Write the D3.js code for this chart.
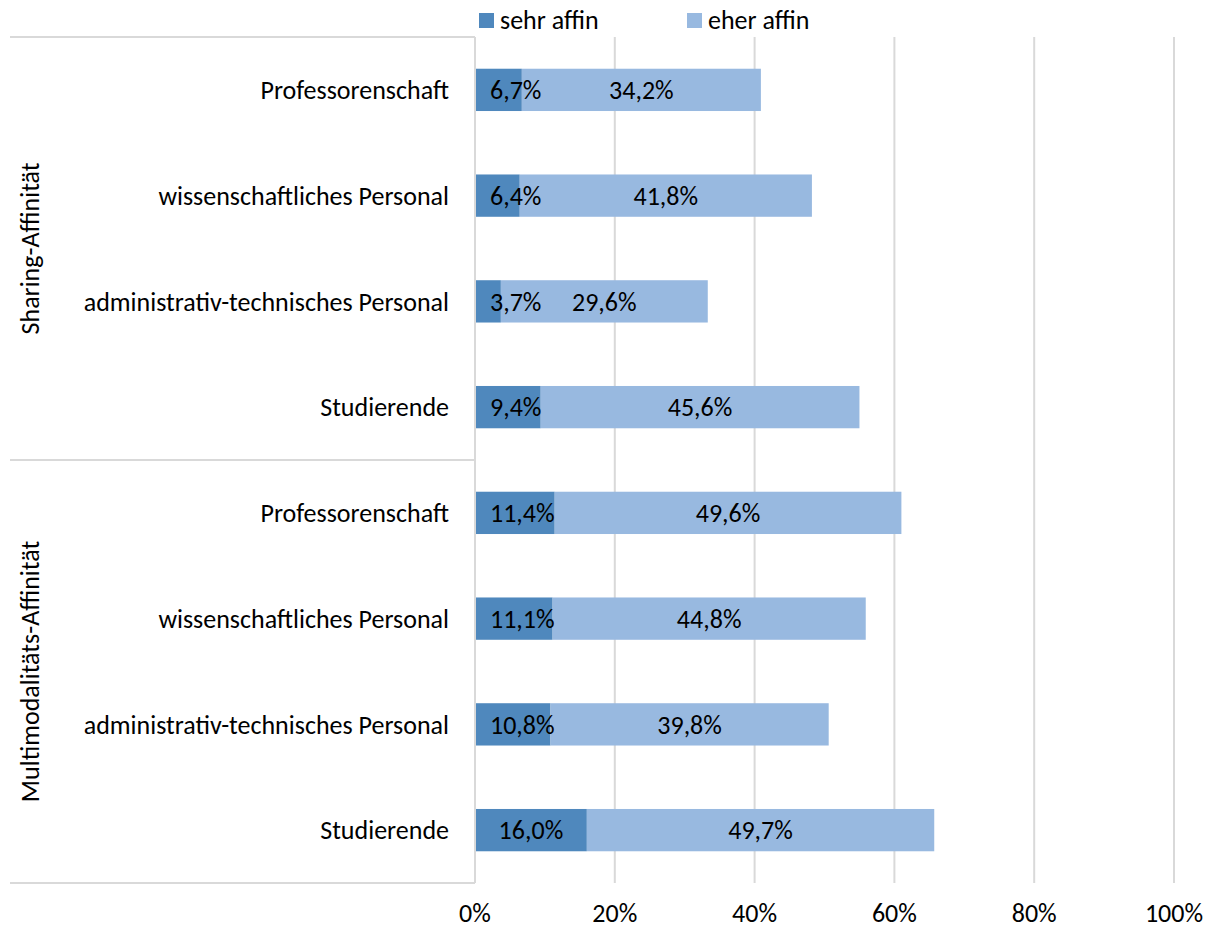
<!DOCTYPE html>
<html>
<head>
<meta charset="utf-8">
<script src="https://cdn.jsdelivr.net/npm/d3@7"></script>
<style>
body { margin:0; background:#fff; }
text { font-family: Carlito, Lato, "Open Sans", sans-serif; fill:#000; }
</style>
</head>
<body>
<div id="chart"></div>
<script>
// data
var groups = ["Sharing-Affinität", "Multimodalitäts-Affinität"];
var categories = ["Professorenschaft", "wissenschaftliches Personal", "administrativ-technisches Personal", "Studierende"];
var sehrAffin = [6.7, 6.4, 3.7, 9.4, 11.4, 11.1, 10.8, 16.0];
var eherAffin = [34.2, 41.8, 29.6, 45.6, 49.6, 44.8, 39.8, 49.7];
var seriesNames = ["sehr affin", "eher affin"];
var colors = ["#4F88BD", "#98B9E0"];
var ticks = [0, 20, 40, 60, 80, 100];

var w = 1212, h = 930;
var margins = {top:37, bottom:47, left:475, right:38};
var fs = 26;

var rows = [];
groups.forEach(function(g, gi){
  categories.forEach(function(c, ci){
    var i = gi*categories.length + ci;
    rows.push({id:i, group:g, cat:c, sehr:sehrAffin[i], eher:eherAffin[i]});
  });
});

var svg = d3.select("#chart").append("svg")
  .attr("width", w).attr("height", h);

var xScale = d3.scaleLinear().domain([0,100]).range([margins.left, w - margins.right]);
var yScale = d3.scaleBand()
  .domain(rows.map(function(d){ return d.id; }))
  .range([margins.top, h - margins.bottom])
  .paddingInner(0.6).paddingOuter(0.3);

// grid
svg.append("g").selectAll("line")
  .data(ticks.slice(1))
  .enter().append("line")
  .attr("x1", function(d){ return xScale(d); })
  .attr("x2", function(d){ return xScale(d); })
  .attr("y1", margins.top).attr("y2", h - margins.bottom)
  .attr("stroke", "#d9d9d9").attr("stroke-width", 2);

// stacked bars
var stack = d3.stack().keys(["sehr","eher"])(rows);
var layer = svg.append("g").selectAll("g")
  .data(stack).enter().append("g")
  .attr("fill", function(d, i){ return colors[i]; });
layer.selectAll("rect")
  .data(function(d){ return d; })
  .enter().append("rect")
  .attr("x", function(d){ return xScale(d[0]); })
  .attr("width", function(d){ return xScale(d[1]) - xScale(d[0]); })
  .attr("y", function(d){ return yScale(d.data.id); })
  .attr("height", yScale.bandwidth());

// value labels
var fmt = function(v){ return v.toFixed(1).replace(".", ",") + "%"; };
stack.forEach(function(s, si){
  svg.append("g").selectAll("text")
    .data(s).enter().append("text")
    .text(function(d){ return fmt(d[1]-d[0]); })
    .attr("font-size", fs)
    .attr("y", function(d){ return yScale(d.data.id) + yScale.bandwidth()/2; })
    .attr("dy", "0.36em")
    .attr("text-anchor", "start")
    .attr("x", function(d){
      var tw = this.getComputedTextLength();
      var cx = (xScale(d[0]) + xScale(d[1]))/2 - tw/2;
      if (si == 0) cx = Math.max(cx, xScale(0) + 15);
      return cx;
    });
});

// axis lines left
var axisCol = "#d9d9d9";
svg.append("line")
  .attr("x1", xScale(0)).attr("x2", xScale(0))
  .attr("y1", margins.top).attr("y2", h - margins.bottom)
  .attr("stroke", axisCol).attr("stroke-width", 2);
var gBounds = [margins.top, (margins.top + h - margins.bottom)/2, h - margins.bottom];
svg.append("g").selectAll("line")
  .data(gBounds).enter().append("line")
  .attr("x1", 10).attr("x2", xScale(0))
  .attr("y1", function(d){ return d; }).attr("y2", function(d){ return d; })
  .attr("stroke", axisCol).attr("stroke-width", 2);

// category labels
svg.append("g").selectAll("text")
  .data(rows).enter().append("text")
  .text(function(d){ return d.cat; })
  .attr("font-size", fs)
  .attr("text-anchor", "end")
  .attr("x", xScale(0) - 26)
  .attr("y", function(d){ return yScale(d.id) + yScale.bandwidth()/2; })
  .attr("dy", "0.36em");

// group labels
groups.forEach(function(g, gi){
  var cy = (gBounds[gi] + gBounds[gi+1])/2;
  svg.append("text")
    .text(g)
    .attr("font-size", fs)
    .attr("text-anchor", "middle")
    .attr("transform", "translate(39," + cy + ") rotate(-90)");
});

// x axis labels
svg.append("g").selectAll("text")
  .data(ticks).enter().append("text")
  .text(function(d){ return d + "%"; })
  .attr("font-size", fs)
  .attr("text-anchor", "middle")
  .attr("x", function(d){ return xScale(d); })
  .attr("y", 922);

// legend
var legX = [479, 687];
seriesNames.forEach(function(n, i){
  svg.append("rect")
    .attr("x", legX[i]).attr("y", 13)
    .attr("width", 15).attr("height", 15)
    .attr("fill", colors[i]);
  svg.append("text")
    .text(n)
    .attr("font-size", fs)
    .attr("x", legX[i] + 21)
    .attr("y", 29);
});
</script>
</body>
</html>
